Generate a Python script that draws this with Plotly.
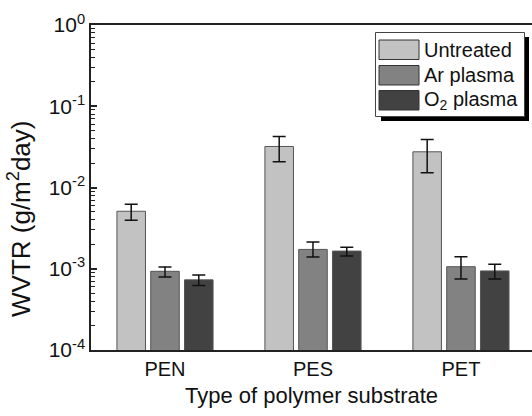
import plotly.graph_objects as go

# ---- data ----
categories = ["PEN", "PES", "PET"]
series_names = ["Untreated", "Ar plasma", "O<sub>2</sub> plasma"]
untreated = [5.1e-3, 3.2e-2, 2.75e-2]
untreated_hi = [6.2e-3, 4.25e-2, 3.9e-2]
untreated_lo = [3.95e-3, 2.07e-2, 1.52e-2]
ar_plasma = [9.3e-4, 1.73e-3, 1.06e-3]
ar_plasma_hi = [1.05e-3, 2.13e-3, 1.41e-3]
ar_plasma_lo = [7.9e-4, 1.40e-3, 7.5e-4]
o2_plasma = [7.3e-4, 1.65e-3, 9.4e-4]
o2_plasma_hi = [8.4e-4, 1.84e-3, 1.14e-3]
o2_plasma_lo = [6.2e-4, 1.44e-3, 7.5e-4]
ytick_vals = [1e-4, 1e-3, 1e-2, 1e-1, 1e0]
ytick_text = ["10<sup>-4</sup>", "10<sup>-3</sup>", "10<sup>-2</sup>", "10<sup>-1</sup>", "10<sup>0</sup>"]
x_title = "Type of polymer substrate"
y_title = "WVTR (g/m<sup>2</sup>day)"

colors = ["#c2c2c2", "#828282", "#424242"]
FONT = "Arial, Liberation Sans, sans-serif"

fig = go.Figure()
for name, vals, hi, lo, col in [
    (series_names[0], untreated, untreated_hi, untreated_lo, colors[0]),
    (series_names[1], ar_plasma, ar_plasma_hi, ar_plasma_lo, colors[1]),
    (series_names[2], o2_plasma, o2_plasma_hi, o2_plasma_lo, colors[2]),
]:
    fig.add_trace(go.Bar(
        x=categories, y=vals, name=name,
        marker=dict(color=col, line=dict(color="#555555", width=1)),
        error_y=dict(type="data", symmetric=False,
                     array=[h - v for h, v in zip(hi, vals)],
                     arrayminus=[v - l for v, l in zip(vals, lo)],
                     color="#111111", thickness=1.5, width=6.5),
        showlegend=False,
    ))

# plot-area geometry in pixels (for legend placement)
L, R, T, B = 91, 532, 25, 350
def px(x):
    return (x - L) / (R - L)
def py(y):
    return 1 - (y - T) / (B - T)

shapes = []
annotations = []
# legend shadow and box
shapes.append(dict(type="rect", xref="paper", yref="paper",
                   x0=px(381), x1=px(529), y0=py(121), y1=py(37),
                   fillcolor="black", line=dict(width=0)))
shapes.append(dict(type="rect", xref="paper", yref="paper",
                   x0=px(375.5), x1=px(524.5), y0=py(116.5), y1=py(32.5),
                   fillcolor="white", line=dict(color="#444444", width=1)))
sw_tops = [40, 65.5, 90.5]
for name, col, top in zip(series_names, colors, sw_tops):
    shapes.append(dict(type="rect", xref="paper", yref="paper",
                       x0=px(379), x1=px(419), y0=py(top + 19.5), y1=py(top),
                       fillcolor=col, line=dict(color="#333333", width=1)))
    annotations.append(dict(xref="paper", yref="paper", x=px(422), y=py(top + 10),
                            xanchor="left", yanchor="middle", text=name, showarrow=False,
                            font=dict(family=FONT, size=20, color="#111111")))

# y-axis title (placed slightly below the plot centre, as in the reference)
annotations.append(dict(xref="paper", yref="paper", x=px(19), y=py(219),
                        xanchor="center", yanchor="middle", textangle=-90,
                        text=y_title, showarrow=False,
                        font=dict(family=FONT, size=26, color="#111111")))

fig.update_layout(
    width=532, height=416,
    margin=dict(l=L, r=532 - R, t=T, b=416 - B, autoexpand=False),
    paper_bgcolor="white", plot_bgcolor="white",
    barmode="group", bargap=0.315, bargroupgap=0.155,
    font=dict(family=FONT, size=20, color="#111111"),
    shapes=shapes, annotations=annotations,
    xaxis=dict(
        range=[-0.5, 2.48], showline=True, linecolor="#222222", linewidth=1.5,
        mirror=True, ticks="", showgrid=False, zeroline=False,
        tickfont=dict(size=20),
        title=dict(text=x_title, font=dict(size=22), standoff=9),
    ),
    yaxis=dict(
        type="log", range=[-4, 0], showline=True, linecolor="#222222", linewidth=1.5,
        mirror=False, showgrid=False, zeroline=False,
        tickvals=ytick_vals, ticktext=ytick_text,
        ticks="inside", ticklen=6, tickwidth=1.5, tickcolor="#222222",
        minor=dict(ticks="inside", ticklen=4, tickwidth=1, tickcolor="#222222", dtick="D1"),
        tickfont=dict(size=21),
    ),
)

fig.write_html("out.html")
